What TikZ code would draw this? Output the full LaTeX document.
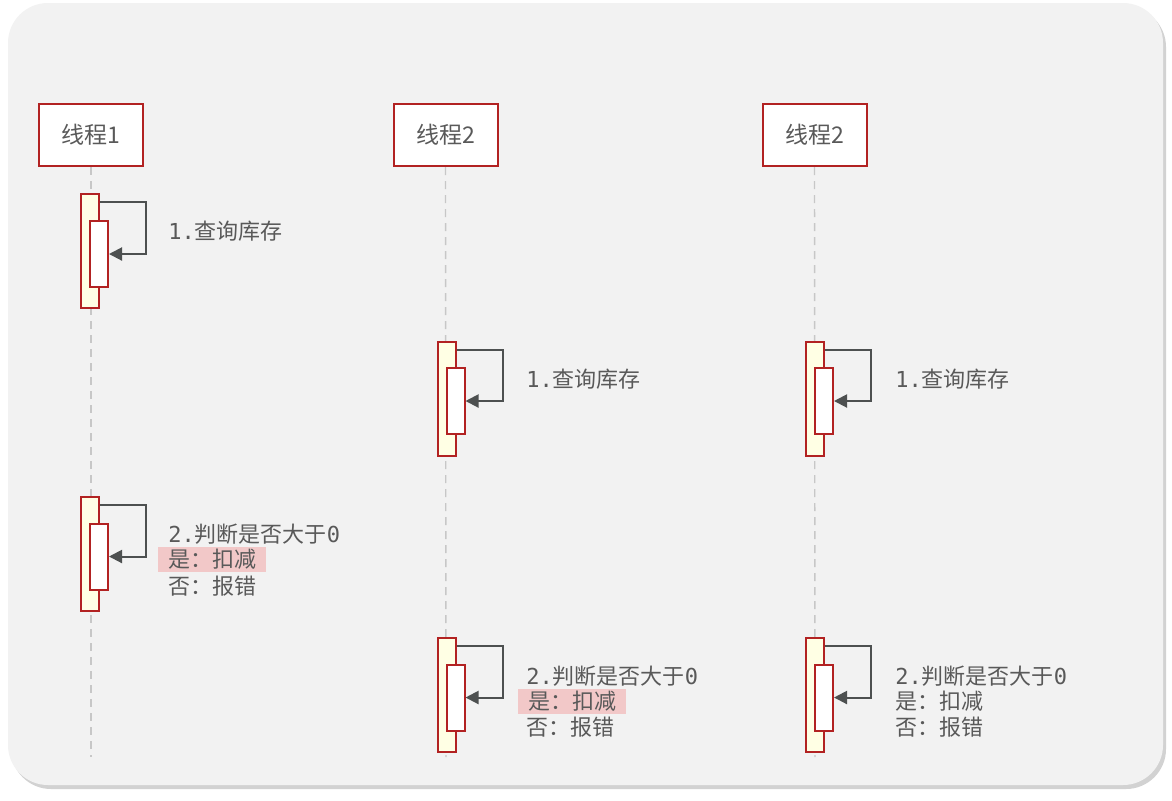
\documentclass[tikz,border=0pt]{standalone}
\usepackage{fontspec}
\setmainfont{Noto Sans CJK SC}
\setmonofont{DejaVu Sans Mono}
\usetikzlibrary{calc,shadows,arrows.meta}
\definecolor{lifered}{RGB}{178,34,34}
\definecolor{panelgray}{RGB}{242,242,242}
\definecolor{txtgray}{RGB}{89,89,89}
\definecolor{arrowgray}{RGB}{77,80,80}
\definecolor{actyellow}{RGB}{255,255,228}
\definecolor{hlpink}{RGB}{242,200,200}
\tikzstyle{thread} = [rectangle, minimum width=52pt, minimum height=31pt, inner sep=0pt, draw=lifered, line width=1pt, fill=white, text=txtgray, font=\fontsize{11.5}{13}\selectfont]
\tikzstyle{actout} = [rectangle, minimum width=9pt, minimum height=57pt, inner sep=0pt, draw=lifered, line width=1pt, fill=actyellow]
\tikzstyle{actin} = [rectangle, minimum width=9pt, minimum height=33pt, inner sep=0pt, draw=lifered, line width=1pt, fill=white]
\tikzset{
  lbl/.style={anchor=west, inner sep=0pt, text=txtgray, font=\fontsize{11}{13}\selectfont},
  hl/.style={lbl, fill=hlpink, inner xsep=5pt, minimum height=12.5pt}, % pink marker behind the "yes" line
  lifeline/.style={dashed, draw=black!22, line width=0.7pt, dash pattern=on 4pt off 3pt}
}
\tikzstyle{arrow} = [line width=1pt, draw=arrowgray, -{Triangle[length=6.5pt,width=6.5pt]}]

\begin{document}
\begin{tikzpicture}[x=0.5pt, y=-0.5pt]
    \useasboundingbox (0,0) rectangle (1172,800);
    \fill[white] (0,0) rectangle (1172,800);
    \fill[panelgray, rounded corners=20pt, drop shadow={shadow xshift=1.5pt, shadow yshift=-2pt, opacity=0.35}] (8,3) rectangle (1163,785);

    \node (t1)[thread] at (91,135) {线程1};
    \node (t2)[thread] at (445.5,135) {线程2};
    \node (t3)[thread] at (814.5,135) {线程2};
    \coordinate (e1) at (91,757);
    \coordinate (e2) at (446,757);
    \coordinate (e3) at (815,757);
    \draw[lifeline] (t1.south)--(e1);
    \draw[lifeline] (t2.south)--(e2);
    \draw[lifeline] (t3.south)--(e3);

    % step 1
    \node (o1)[actout] at (90,251) {};
    \node (i1)[actin] at (99,254) {};
    \draw[arrow] ($(o1.north east)+(0,9)$) -| ($(i1.east)+(37,0)$) -- (i1.east);
    \node (q1)[lbl] at (168,231) {\texttt{1.}查询库存};

    \node (o2)[actout] at (446.5,398.5) {};
    \node (i2)[actin] at (455.5,401) {};
    \draw[arrow] ($(o2.north east)+(0,9)$) -| ($(i2.east)+(37,0)$) -- (i2.east);
    \node (q2)[lbl] at (526,379) {\texttt{1.}查询库存};

    \node (o3)[actout] at (815,398.5) {};
    \node (i3)[actin] at (824,401) {};
    \draw[arrow] ($(o3.north east)+(0,9)$) -| ($(i3.east)+(37,0)$) -- (i3.east);
    \node (q3)[lbl] at (895,379) {\texttt{1.}查询库存};

    % step 2
    \node (o4)[actout] at (90,554) {};
    \node (i4)[actin] at (99,556.5) {};
    \draw[arrow] ($(o4.north east)+(0,9)$) -| ($(i4.east)+(37,0)$) -- (i4.east);
    \node (j1)[lbl] at (168,534) {\texttt{2.}判断是否大于\texttt{0}};
    \node (y1)[hl] at (158,559.5) {是：扣减};
    \node (n1)[lbl] at (168,586) {否：报错};

    \node (o5)[actout] at (446.5,695) {};
    \node (i5)[actin] at (455.5,697.5) {};
    \draw[arrow] ($(o5.north east)+(0,9)$) -| ($(i5.east)+(37,0)$) -- (i5.east);
    \node (j2)[lbl] at (526,676) {\texttt{2.}判断是否大于\texttt{0}};
    \node (y2)[hl] at (518,701) {是：扣减};
    \node (n2)[lbl] at (526,727) {否：报错};

    \node (o6)[actout] at (815,695) {};
    \node (i6)[actin] at (824,697.5) {};
    \draw[arrow] ($(o6.north east)+(0,9)$) -| ($(i6.east)+(37,0)$) -- (i6.east);
    \node (j3)[lbl] at (895,676) {\texttt{2.}判断是否大于\texttt{0}};
    \node (y3)[lbl] at (895,701) {是：扣减};
    \node (n3)[lbl] at (895,727) {否：报错};

  \end{tikzpicture}
\end{document}
